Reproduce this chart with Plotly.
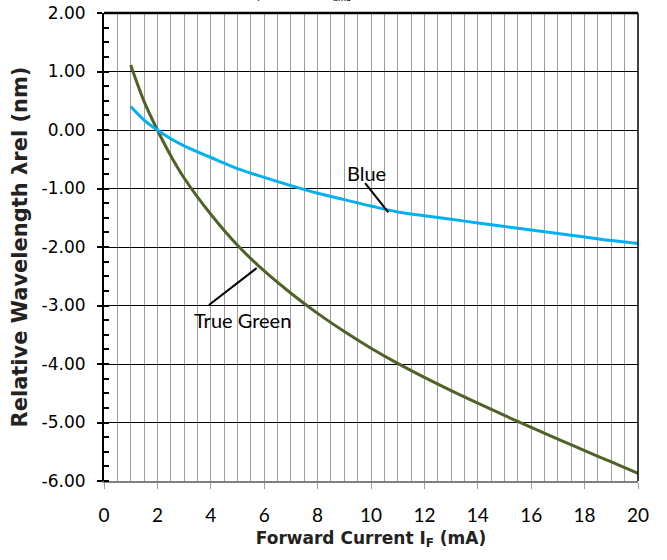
import plotly.graph_objects as go

current = [1, 1.5, 2, 2.5, 3, 4, 5, 6, 7, 8, 9, 10, 11, 12, 13, 14, 15, 16, 17, 18, 19, 20]
blue = [0.40, 0.17, 0.00, -0.15, -0.27, -0.47, -0.66, -0.81, -0.95, -1.08, -1.19, -1.30, -1.40, -1.465, -1.525, -1.59, -1.65, -1.71, -1.77, -1.83, -1.89, -1.94]
true_green = [1.11, 0.49, 0.00, -0.44, -0.82, -1.44, -1.97, -2.41, -2.79, -3.135, -3.445, -3.73, -3.99, -4.23, -4.455, -4.67, -4.88, -5.085, -5.285, -5.48, -5.675, -5.87]
x_ticks = [0, 2, 4, 6, 8, 10, 12, 14, 16, 18, 20]
y_ticks = [2, 1, 0, -1, -2, -3, -4, -5, -6]
y_tick_text = ["%.2f" % v for v in y_ticks]

fig = go.Figure()
fig.add_trace(go.Scatter(x=current, y=true_green, mode="lines", line=dict(color="#4F6228", width=3, shape="spline", smoothing=1.0), name="True Green"))
fig.add_trace(go.Scatter(x=current, y=blue, mode="lines", line=dict(color="#00B0F0", width=3, shape="spline", smoothing=1.0), name="Blue"))

# label pointers
fig.add_shape(type="line", x0=9.78, y0=-0.91, x1=10.65, y1=-1.41, line=dict(color="black", width=2))
fig.add_shape(type="line", x0=3.93, y0=-2.99, x1=5.72, y1=-2.36, line=dict(color="black", width=2))
fig.add_annotation(x=9.83, y=-0.74, text="Blue", showarrow=False, font=dict(family="Lato", size=20, color="black"))
fig.add_annotation(x=5.2, y=-3.24, text="True Green", showarrow=False, font=dict(family="Lato", size=20, color="black"))

# partially visible caption at the very top (cut off in the original)
fig.add_annotation(xref="paper", yref="paper", x=0.42, y=1.0, yshift=8, yanchor="bottom",
                   text="I<sub>F</sub> = 20 mA, T<sub>amb</sub> = 25 °C", showarrow=False,
                   font=dict(family="Lato", size=14, color="black"))

# top and right borders (black)
fig.add_shape(type="line", xref="paper", yref="paper", x0=0, x1=1, y0=1, y1=1, line=dict(color="black", width=2.5))
fig.add_shape(type="line", xref="paper", yref="paper", x0=1, x1=1, y0=0, y1=1, line=dict(color="black", width=1.5))

fig.update_layout(
    width=667, height=560,
    margin=dict(l=104, r=29, t=13, b=79),
    paper_bgcolor="white", plot_bgcolor="white",
    showlegend=False,
    xaxis=dict(
        range=[0, 20], tickvals=x_ticks, ticktext=[str(v) for v in x_ticks],
        showgrid=True, gridcolor="#a0a0a0", gridwidth=1,
        minor=dict(dtick=0.5, showgrid=True, gridcolor="#a0a0a0", gridwidth=1),
        showline=True, linecolor="#808080", linewidth=2,
        ticks="outside", ticklen=6, tickcolor="#a0a0a0", ticklabelstandoff=10,
        tickfont=dict(family="Lato", size=19, color="black"),
        zeroline=False, automargin=False, ticklabeloverflow="allow",
        title=dict(text="<b>Forward Current I<sub>F</sub> (mA)</b>", font=dict(family="DejaVu Sans", size=17, color="#222"), standoff=7),
    ),
    yaxis=dict(
        range=[-6, 2], tickvals=y_ticks, ticktext=y_tick_text,
        showgrid=True, gridcolor="black", gridwidth=1.2,
        showline=True, linecolor="black", linewidth=2,
        ticks="outside", ticklen=5, tickcolor="black", tickwidth=1.5,
        minor=dict(dtick=0.25, ticks="inside", ticklen=5, tickcolor="black", tickwidth=1.5, showgrid=False),
        ticklabelstandoff=8,
        tickfont=dict(family="DejaVu Sans", size=17, color="black"),
        zeroline=False, automargin=False, ticklabeloverflow="allow",
        title=dict(text="<b>Relative Wavelength λrel (nm)</b>", font=dict(family="DejaVu Sans", size=21, color="#222"), standoff=8),
    ),
)

fig.write_html("out.html", config={"displayModeBar": False},
               post_script="document.body.style.margin='0';document.body.style.overflow='hidden';")
